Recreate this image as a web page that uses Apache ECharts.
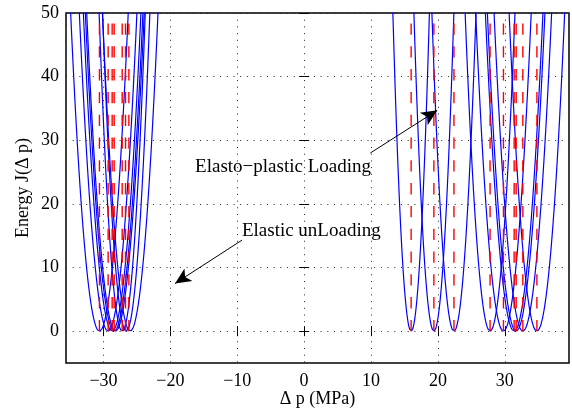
<!DOCTYPE html>
<html>
<head>
<meta charset="utf-8">
<script src="https://cdn.jsdelivr.net/npm/echarts@6/dist/echarts.min.js"></script>
<style>
  html, body { margin: 0; padding: 0; background: #fff; }
  #chart { width: 572px; height: 415px; }
</style>
</head>
<body>
<div id="chart"></div>
<script>
// axis ranges and tick labels
const xRange = [-35.6, 39.6];
const yRange = [-5, 50];
const xTicks = [-30, -20, -10, 0, 10, 20, 30];
const yTicks = [0, 10, 20, 30, 40, 50];

// parabola minima (Δp at J=0) and curvature
const leftCentres = [-30.6, -29.3, -28.7, -28.4, -28.2, -27.2, -26.6, -26.0];
const leftCurv = [2.7, 2.7, 2.7, 2.7, 2.7, 4.2, 4.0, 2.9];
const rightCentres = [16.0, 19.4, 22.4, 27.8, 29.8, 31.4, 31.7, 32.7, 34.8];
const rightCurv = [6.7, 5.6, 4.6, 3.6, 2.9, 2.7, 2.7, 2.7, 2.9];

// red dashed markers at the minima
const dashCentres = [-30.6, -29.3, -28.7, -28.4, -27.2, -26.7, -26.2,
  16.0, 19.4, 22.4, 27.8, 29.8, 31.4, 31.7, 32.7, 34.8];
const dashTop = 48.5;

// annotations: arrow tail, arrow tip, text anchor (left, middle)
const notes = [
  { text: "Elasto\u2212plastic Loading", from: [9.9, 28.0], to: [19.9, 34.7], at: [-16.3, 25.8] },
  { text: "Elastic unLoading", from: [-9.3, 14.3], to: [-19.3, 7.5], at: [-9.3, 15.8] }
];

const minus = v => String(v).replace("-", "\u2212");
const serif = "Liberation Serif";

let myChart = echarts.init(document.getElementById("chart"));

let series = [];
let centres = leftCentres.concat(rightCentres);
let curv = leftCurv.concat(rightCurv);
for (let i = 0; i < centres.length; i++) {
  let c = centres[i], k = curv[i];
  let w = Math.sqrt(56 / k);
  let pts = [];
  for (let x = c - w; x <= c + w + 1e-9; x += 0.01) {
    pts.push([x, k * (x - c) * (x - c)]);
  }
  series.push({
    type: "line",
    data: pts,
    showSymbol: false,
    silent: true,
    z: 2,
    lineStyle: { color: "#0000ff", width: 1.2 }
  });
}
dashCentres.forEach(c => {
  series.push({
    type: "line",
    data: [[c, 0], [c, dashTop]],
    showSymbol: false,
    silent: true,
    z: 3,
    lineStyle: { color: "#ff0000", width: 1.4, type: [11.3, 11.5] }
  });
});
// arrows
series.push({
  type: "line",
  data: [],
  silent: true,
  z: 5,
  markLine: {
    silent: true,
    symbol: ["none", "arrow"],
    symbolSize: [11, 16],
    label: { show: false },
    lineStyle: { color: "#000", type: "solid", width: 1 },
    data: notes.map(n => [{ coord: n.from }, { coord: n.to }])
  }
});

let option = {
  animation: false,
  grid: {
    left: 66, right: 3, top: 13, bottom: 52,
    outerBoundsMode: "none",
    show: true, borderColor: "#000", borderWidth: 1.5
  },
  xAxis: [
    {
      type: "value", min: xRange[0], max: xRange[1],
      name: "\u0394 p (MPa)", nameLocation: "middle", nameGap: 27, nameMoveOverlap: false,
      nameTextStyle: { fontFamily: serif, fontSize: 18, color: "#000" },
      axisLine: { show: false },
      axisTick: { inside: true, length: 5, customValues: xTicks, lineStyle: { color: "#000" } },
      axisLabel: { customValues: xTicks, formatter: minus, fontFamily: serif, fontSize: 18, color: "#000", margin: 9 },
      splitLine: { show: true, lineStyle: { color: "#222", type: [1, 5.7], width: 1 } }
    },
    {
      type: "value", min: xRange[0], max: xRange[1], position: "top",
      axisLine: { show: false },
      axisTick: { inside: true, length: 5, customValues: xTicks, lineStyle: { color: "#000" } },
      axisLabel: { show: false },
      splitLine: { show: false }
    }
  ],
  yAxis: [
    {
      type: "value", min: yRange[0], max: yRange[1],
      name: "Energy J(\u0394 p)", nameLocation: "middle", nameGap: 34, nameMoveOverlap: false,
      nameTextStyle: { fontFamily: serif, fontSize: 18, color: "#000" },
      axisLine: { show: false },
      axisTick: { inside: true, length: 5, customValues: yTicks, lineStyle: { color: "#000" } },
      axisLabel: { customValues: yTicks, formatter: minus, fontFamily: serif, fontSize: 18, color: "#000", margin: 7 },
      splitLine: { show: true, lineStyle: { color: "#222", type: [1, 5.7], width: 1 } }
    },
    {
      type: "value", min: yRange[0], max: yRange[1], position: "right",
      axisLine: { show: false },
      axisTick: { inside: true, length: 5, customValues: yTicks, lineStyle: { color: "#000" } },
      axisLabel: { show: false },
      splitLine: { show: false }
    }
  ],
  series: series
};
myChart.setOption(option);

// annotation texts placed through the axes
myChart.setOption({
  graphic: notes.map(n => {
    let p = myChart.convertToPixel({ gridIndex: 0 }, n.at);
    return {
      type: "text", x: p[0], y: p[1], z: 10, silent: true,
      style: { text: n.text, fontFamily: serif, fontSize: 19, fill: "#000", align: "left", verticalAlign: "middle" }
    };
  })
});
</script>
</body>
</html>
